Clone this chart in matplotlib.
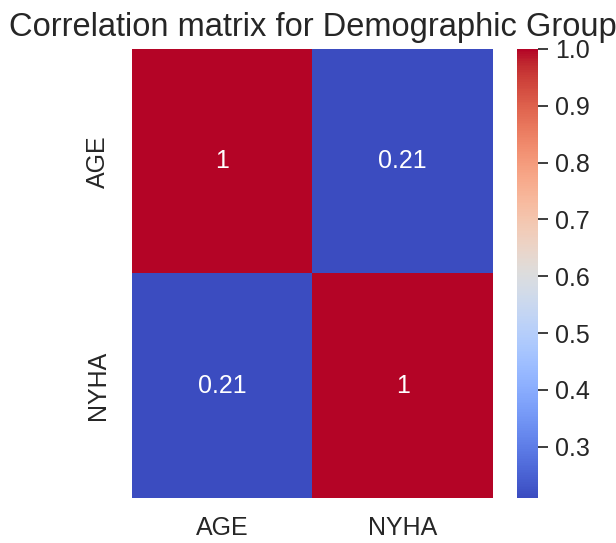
import numpy as np
import pandas as pd
import seaborn as sns
import matplotlib.pyplot as plt

labels = ["AGE", "NYHA"]
corr_values = [[1.0, 0.21],
               [0.21, 1.0]]

sns.set_theme()
plt.rcParams['font.family'] = ['Liberation Sans', 'DejaVu Sans']

corr = pd.DataFrame(corr_values, index=labels, columns=labels)

fig = plt.figure(figsize=(6.16, 5.43), dpi=100)
ax = fig.add_axes([0.2143, 0.0829, 0.586, 0.827])
cax = fig.add_axes([0.839, 0.0829, 0.034, 0.827])

sns.heatmap(corr, annot=True, cmap='coolwarm', ax=ax, cbar_ax=cax,
            annot_kws={"size": 18})

ax.tick_params(axis='x', labelsize=18, pad=7)
ax.tick_params(axis='y', labelsize=18, pad=10)
cax.tick_params(labelsize=18, length=7, pad=5.5)
ax.set_title("Correlation matrix for Demographic Group", fontsize=23.5, pad=9)

fig.savefig("out.png", dpi=100)
